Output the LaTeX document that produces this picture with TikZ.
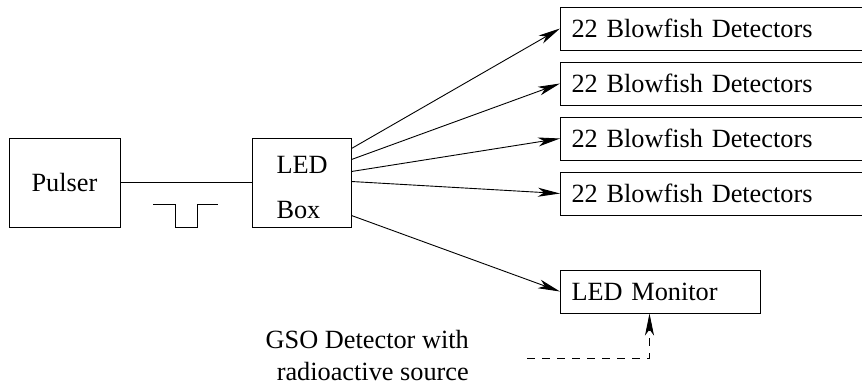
\documentclass[tikz,border=0pt]{standalone}
\usepackage{fontspec}
\setmainfont{Liberation Serif}
\usetikzlibrary{arrows.meta,calc}
\begin{document}
\begin{tikzpicture}[x=1pt,y=-1pt,
  font=\rmfamily\fontsize{26.3}{31}\selectfont,
  box/.style={draw,line width=1pt,inner sep=0pt},
  detbox/.style={draw,line width=1pt,text width=280pt,inner xsep=11pt,inner ysep=0pt,minimum height=43pt,align=left,anchor=west},
  conn/.style={line width=0.9pt},
  arr/.style={line width=0.9pt,-{Stealth[length=22pt,width=9pt,inset=6pt]}},
  dashconn/.style={line width=0.9pt,dash pattern=on 8pt off 7pt,-{Stealth[length=22pt,width=9pt,inset=6pt]}}]
\useasboundingbox (0,0) rectangle (862,386);
% boxes
\node[box,minimum width=111pt,minimum height=89pt] (pulser) at (64.5,182.5) {Pulser};
\node[box,minimum width=99pt,minimum height=89pt] (led) at (301.5,182.5) {};
\node[anchor=base west] (ledt) at (273,173) {LED};
\node[anchor=base west] (boxt) at (273,218) {Box};
\node[detbox] (b1) at (560,28.5) {22 Blowfish Detectors};
\node[detbox] (b2) at (560,83.5) {22 Blowfish Detectors};
\node[detbox] (b3) at (560,138.5) {22 Blowfish Detectors};
\node[detbox] (b4) at (560,193.5) {22 Blowfish Detectors};
\node[detbox,text width=178pt] (mon) at (560,291.5) {LED Monitor};
\node[align=right,anchor=east,inner sep=0pt,font=\rmfamily\fontsize{26.3}{32}\selectfont] (gso) at (469,355) {GSO Detector with\\radioactive source};
% connections
\draw[conn] (pulser.east) -- (led.west);
\draw[conn] (153,204) -- (175,204) -- (175,227) -- (197,227) -- (197,204) -- (218,204);
\draw[arr] ([yshift=-11pt]led.north east) -- (b1.west);
\draw[arr] ([yshift=-22pt]led.north east) -- (b2.west);
\draw[arr] ([yshift=-34pt]led.north east) -- (b3.west);
\draw[arr] ([yshift=-44pt]led.north east) -- (b4.west);
\draw[arr] ([yshift=12pt]led.south east) -- (mon.west);
\coordinate (gsoend) at (527,358);
\draw[dashconn] (gsoend) -| ([xshift=-11pt]mon.south);
\end{tikzpicture}
\end{document}
